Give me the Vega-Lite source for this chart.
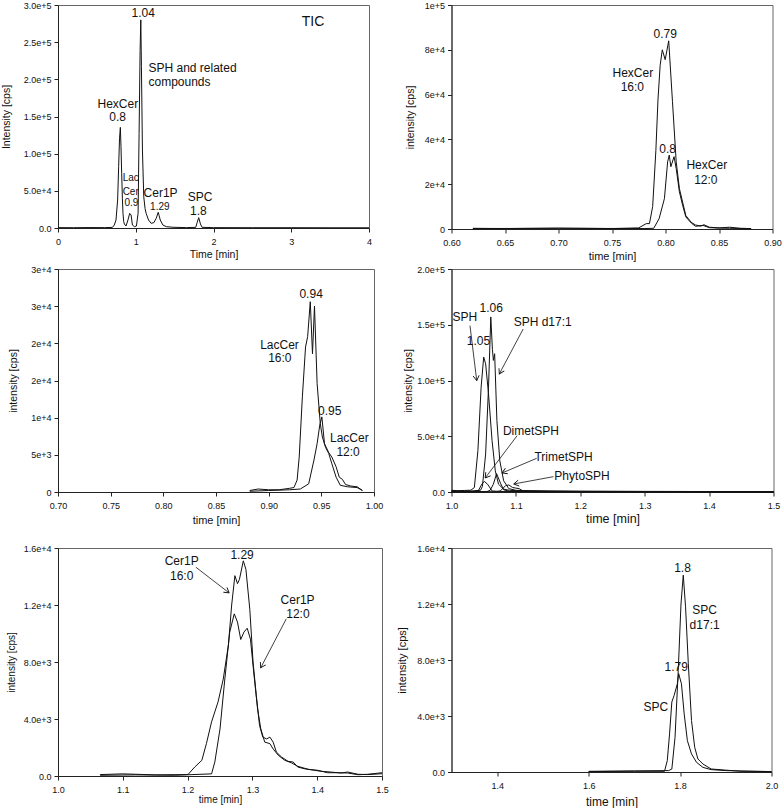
{
"$schema": "https://vega.github.io/schema/vega-lite/v6.json",
"padding": 0,
"autosize": {"type": "pad"},
"background": "white",
"config": {
 "font": "Liberation Sans",
 "view": {"stroke": "#666", "strokeWidth": 1},
 "axis": {"grid": false, "domainColor": "#222", "tickColor": "#222", "tickSize": 4, "labelFont": "Liberation Sans", "labelFontSize": 9, "labelColor": "#111", "labelPadding": 3, "titleFont": "Liberation Sans", "titleFontSize": 10.5, "titleFontWeight": "normal", "titleColor": "#111", "labelFlush": false, "labelOverlap": false, "labelBound": false},
 "axisX": {"labelPadding": 5},
 "line": {"color": "#111", "strokeWidth": 1},
 "text": {"font": "Liberation Sans", "fontSize": 12, "color": "#111", "align": "center", "baseline": "middle"}
},
"datasets": {
 "p1": [
  {"t":0,"v":500},{"t":0.2,"v":400},{"t":0.4,"v":600},{"t":0.6,"v":500},{"t":0.7,"v":800},{"t":0.724,"v":4000},{"t":0.746,"v":10800},{"t":0.767,"v":37700},{"t":0.78,"v":82500},{"t":0.791,"v":120000},{"t":0.802,"v":135400},{"t":0.81,"v":110000},{"t":0.819,"v":73500},{"t":0.828,"v":40000},{"t":0.836,"v":19700},{"t":0.845,"v":9000},{"t":0.853,"v":5400},{"t":0.875,"v":2700},{"t":0.9,"v":10800},{"t":0.922,"v":19700},{"t":0.94,"v":17500},{"t":0.957,"v":4000},{"t":0.983,"v":1800},{"t":1.009,"v":2700},{"t":1.03,"v":19700},{"t":1.043,"v":127000},{"t":1.056,"v":239000},{"t":1.065,"v":280000},{"t":1.073,"v":217000},{"t":1.086,"v":105000},{"t":1.103,"v":42000},{"t":1.12,"v":26000},{"t":1.134,"v":19700},{"t":1.164,"v":10800},{"t":1.198,"v":6300},{"t":1.233,"v":7200},{"t":1.263,"v":13000},{"t":1.289,"v":21100},{"t":1.3,"v":17000},{"t":1.315,"v":10800},{"t":1.349,"v":4000},{"t":1.392,"v":1800},{"t":1.478,"v":1000},{"t":1.651,"v":500},{"t":1.772,"v":900},{"t":1.789,"v":7200},{"t":1.81,"v":13900},{"t":1.832,"v":5400},{"t":1.853,"v":900},{"t":2.0,"v":500},{"t":2.5,"v":400},{"t":3.0,"v":400},{"t":3.5,"v":300},{"t":4.0,"v":300}
 ],
 "p1big": [
  {"t":1.095,"v":289700,"label":"1.04"},{"t":0.77,"v":166400,"label":"HexCer"},{"t":0.767,"v":148900,"label":"0.8"},{"t":1.319,"v":47500,"label":"Cer1P"},{"t":1.828,"v":42100,"label":"SPC"},{"t":1.806,"v":23300,"label":"1.8"}
 ],
 "p1left": [
  {"t":1.164,"v":215700,"label":"SPH and related"},{"t":1.164,"v":196800,"label":"compounds"}
 ],
 "p1small": [
  {"t":0.935,"v":67700,"label":"Lac"},{"t":0.935,"v":48900,"label":"Cer"},{"t":0.944,"v":33200,"label":"0.9"},{"t":1.31,"v":27800,"label":"1.29"}
 ],
 "p1tic": [{"t":3.28,"v":276700,"label":"TIC"}],
 "p2": [
  {"t":0.62,"v":300,"s":"16:0"},{"t":0.65,"v":200,"s":"16:0"},{"t":0.7,"v":400,"s":"16:0"},{"t":0.75,"v":200,"s":"16:0"},{"t":0.775,"v":500,"s":"16:0"},{"t":0.782,"v":2400,"s":"16:0"},{"t":0.785,"v":2400,"s":"16:0"},{"t":0.788,"v":10000,"s":"16:0"},{"t":0.791,"v":35000,"s":"16:0"},{"t":0.793,"v":58000,"s":"16:0"},{"t":0.795,"v":73000,"s":"16:0"},{"t":0.797,"v":80000,"s":"16:0"},{"t":0.7997,"v":75600,"s":"16:0"},{"t":0.803,"v":84000,"s":"16:0"},{"t":0.8065,"v":57000,"s":"16:0"},{"t":0.81,"v":30000,"s":"16:0"},{"t":0.813,"v":18000,"s":"16:0"},{"t":0.816,"v":12000,"s":"16:0"},{"t":0.819,"v":6000,"s":"16:0"},{"t":0.824,"v":3000,"s":"16:0"},{"t":0.828,"v":1800,"s":"16:0"},{"t":0.833,"v":1300,"s":"16:0"},{"t":0.836,"v":1900,"s":"16:0"},{"t":0.841,"v":800,"s":"16:0"},{"t":0.85,"v":500,"s":"16:0"},{"t":0.86,"v":800,"s":"16:0"},{"t":0.87,"v":300,"s":"16:0"},{"t":0.88,"v":200,"s":"16:0"},
  {"t":0.62,"v":200,"s":"12:0"},{"t":0.7,"v":300,"s":"12:0"},{"t":0.78,"v":200,"s":"12:0"},{"t":0.789,"v":300,"s":"12:0"},{"t":0.794,"v":4600,"s":"12:0"},{"t":0.799,"v":13600,"s":"12:0"},{"t":0.802,"v":30000,"s":"12:0"},{"t":0.8035,"v":33000,"s":"12:0"},{"t":0.805,"v":27800,"s":"12:0"},{"t":0.808,"v":32300,"s":"12:0"},{"t":0.81,"v":27000,"s":"12:0"},{"t":0.813,"v":16600,"s":"12:0"},{"t":0.816,"v":10600,"s":"12:0"},{"t":0.819,"v":5400,"s":"12:0"},{"t":0.824,"v":2700,"s":"12:0"},{"t":0.828,"v":1200,"s":"12:0"},{"t":0.835,"v":1600,"s":"12:0"},{"t":0.841,"v":600,"s":"12:0"},{"t":0.85,"v":400,"s":"12:0"},{"t":0.86,"v":300,"s":"12:0"},{"t":0.88,"v":200,"s":"12:0"}
 ],
 "p2lab": [
  {"t":0.7997,"v":86900,"label":"0.79"},{"t":0.7695,"v":69700,"label":"HexCer"},{"t":0.769,"v":63200,"label":"16:0"},{"t":0.802,"v":35600,"label":"0.8"},{"t":0.8386,"v":28600,"label":"HexCer"},{"t":0.8377,"v":21800,"label":"12:0"}
 ],
 "p3": [
  {"t":0.882,"v":200,"s":"16:0"},{"t":0.89,"v":400,"s":"16:0"},{"t":0.9,"v":300,"s":"16:0"},{"t":0.91,"v":300,"s":"16:0"},{"t":0.92,"v":500,"s":"16:0"},{"t":0.924,"v":600,"s":"16:0"},{"t":0.927,"v":1600,"s":"16:0"},{"t":0.929,"v":4700,"s":"16:0"},{"t":0.932,"v":12800,"s":"16:0"},{"t":0.935,"v":19500,"s":"16:0"},{"t":0.937,"v":20900,"s":"16:0"},{"t":0.9395,"v":25600,"s":"16:0"},{"t":0.9416,"v":18600,"s":"16:0"},{"t":0.9435,"v":25000,"s":"16:0"},{"t":0.946,"v":14600,"s":"16:0"},{"t":0.949,"v":9200,"s":"16:0"},{"t":0.951,"v":7400,"s":"16:0"},{"t":0.954,"v":6000,"s":"16:0"},{"t":0.957,"v":5200,"s":"16:0"},{"t":0.96,"v":3800,"s":"16:0"},{"t":0.964,"v":2000,"s":"16:0"},{"t":0.968,"v":900,"s":"16:0"},{"t":0.975,"v":700,"s":"16:0"},{"t":0.984,"v":600,"s":"16:0"},{"t":0.989,"v":200,"s":"16:0"},
  {"t":0.882,"v":100,"s":"12:0"},{"t":0.9,"v":200,"s":"12:0"},{"t":0.92,"v":300,"s":"12:0"},{"t":0.93,"v":400,"s":"12:0"},{"t":0.938,"v":1100,"s":"12:0"},{"t":0.943,"v":4300,"s":"12:0"},{"t":0.946,"v":6500,"s":"12:0"},{"t":0.9485,"v":9000,"s":"12:0"},{"t":0.9505,"v":10100,"s":"12:0"},{"t":0.953,"v":6500,"s":"12:0"},{"t":0.957,"v":5300,"s":"12:0"},{"t":0.96,"v":4700,"s":"12:0"},{"t":0.964,"v":3400,"s":"12:0"},{"t":0.967,"v":2000,"s":"12:0"},{"t":0.97,"v":1700,"s":"12:0"},{"t":0.973,"v":1000,"s":"12:0"},{"t":0.978,"v":800,"s":"12:0"},{"t":0.984,"v":700,"s":"12:0"},{"t":0.989,"v":200,"s":"12:0"}
 ],
 "p3lab": [
  {"t":0.9403,"v":26630,"label":"0.94"},{"t":0.9103,"v":19760,"label":"LacCer"},{"t":0.9106,"v":17960,"label":"16:0"},{"t":0.958,"v":10910,"label":"0.95"},{"t":0.9766,"v":7270,"label":"LacCer"},{"t":0.9754,"v":5390,"label":"12:0"}
 ],
 "p4": [
  {"t":1.0,"v":1500,"s":"SPH"},{"t":1.01,"v":1200,"s":"SPH"},{"t":1.02,"v":1400,"s":"SPH"},{"t":1.03,"v":1600,"s":"SPH"},{"t":1.0355,"v":4000,"s":"SPH"},{"t":1.041,"v":37000,"s":"SPH"},{"t":1.046,"v":94000,"s":"SPH"},{"t":1.05,"v":121000,"s":"SPH"},{"t":1.053,"v":115000,"s":"SPH"},{"t":1.0575,"v":88000,"s":"SPH"},{"t":1.063,"v":46000,"s":"SPH"},{"t":1.068,"v":19000,"s":"SPH"},{"t":1.073,"v":7000,"s":"SPH"},{"t":1.081,"v":2500,"s":"SPH"},{"t":1.09,"v":1500,"s":"SPH"},{"t":1.1,"v":1200,"s":"SPH"},{"t":1.12,"v":1000,"s":"SPH"},{"t":1.15,"v":900,"s":"SPH"},{"t":1.2,"v":700,"s":"SPH"},{"t":1.25,"v":600,"s":"SPH"},{"t":1.3,"v":500,"s":"SPH"},{"t":1.35,"v":500,"s":"SPH"},{"t":1.4,"v":400,"s":"SPH"},{"t":1.45,"v":400,"s":"SPH"},{"t":1.5,"v":300,"s":"SPH"},
  {"t":1.0,"v":800,"s":"SPH d17:1"},{"t":1.03,"v":900,"s":"SPH d17:1"},{"t":1.045,"v":1500,"s":"SPH d17:1"},{"t":1.048,"v":5000,"s":"SPH d17:1"},{"t":1.053,"v":34000,"s":"SPH d17:1"},{"t":1.0575,"v":94000,"s":"SPH d17:1"},{"t":1.061,"v":157000,"s":"SPH d17:1"},{"t":1.0635,"v":128000,"s":"SPH d17:1"},{"t":1.065,"v":118000,"s":"SPH d17:1"},{"t":1.067,"v":124000,"s":"SPH d17:1"},{"t":1.0705,"v":64000,"s":"SPH d17:1"},{"t":1.075,"v":28000,"s":"SPH d17:1"},{"t":1.081,"v":10000,"s":"SPH d17:1"},{"t":1.089,"v":3000,"s":"SPH d17:1"},{"t":1.1,"v":1500,"s":"SPH d17:1"},{"t":1.15,"v":800,"s":"SPH d17:1"},{"t":1.2,"v":600,"s":"SPH d17:1"},{"t":1.3,"v":500,"s":"SPH d17:1"},{"t":1.4,"v":400,"s":"SPH d17:1"},{"t":1.5,"v":300,"s":"SPH d17:1"},
  {"t":1.0,"v":300,"s":"DimetSPH"},{"t":1.035,"v":500,"s":"DimetSPH"},{"t":1.042,"v":1500,"s":"DimetSPH"},{"t":1.047,"v":7000,"s":"DimetSPH"},{"t":1.051,"v":9500,"s":"DimetSPH"},{"t":1.056,"v":7000,"s":"DimetSPH"},{"t":1.063,"v":900,"s":"DimetSPH"},{"t":1.08,"v":400,"s":"DimetSPH"},{"t":1.15,"v":300,"s":"DimetSPH"},{"t":1.3,"v":200,"s":"DimetSPH"},{"t":1.5,"v":200,"s":"DimetSPH"},
  {"t":1.0,"v":200,"s":"TrimetSPH"},{"t":1.055,"v":400,"s":"TrimetSPH"},{"t":1.06,"v":1500,"s":"TrimetSPH"},{"t":1.065,"v":7000,"s":"TrimetSPH"},{"t":1.07,"v":16500,"s":"TrimetSPH"},{"t":1.076,"v":8000,"s":"TrimetSPH"},{"t":1.081,"v":2000,"s":"TrimetSPH"},{"t":1.09,"v":600,"s":"TrimetSPH"},{"t":1.2,"v":300,"s":"TrimetSPH"},{"t":1.5,"v":200,"s":"TrimetSPH"},
  {"t":1.0,"v":200,"s":"PhytoSPH"},{"t":1.07,"v":300,"s":"PhytoSPH"},{"t":1.076,"v":1000,"s":"PhytoSPH"},{"t":1.084,"v":5700,"s":"PhytoSPH"},{"t":1.089,"v":6300,"s":"PhytoSPH"},{"t":1.095,"v":4000,"s":"PhytoSPH"},{"t":1.1,"v":3500,"s":"PhytoSPH"},{"t":1.105,"v":3000,"s":"PhytoSPH"},{"t":1.112,"v":600,"s":"PhytoSPH"},{"t":1.13,"v":300,"s":"PhytoSPH"},{"t":1.5,"v":200,"s":"PhytoSPH"}
 ],
 "p4lab": [
  {"t":1.0209,"v":156700,"label":"SPH"},{"t":1.0617,"v":165000,"label":"1.06"},{"t":1.0418,"v":135150,"label":"1.05"},{"t":1.1416,"v":152800,"label":"SPH d17:1"},{"t":1.1233,"v":55000,"label":"DimetSPH"},{"t":1.174,"v":31700,"label":"TrimetSPH"},{"t":1.2027,"v":14650,"label":"PhytoSPH"}
 ],
 "p4arr": [
  {"t":1.0392,"v":99870,"t2":1.0287,"v2":149200},{"t":1.0742,"v":105850,"t2":1.1113,"v2":146200},{"t":1.0523,"v":12560,"t2":1.1019,"v2":50530},{"t":1.0784,"v":17040,"t2":1.1322,"v2":30200},{"t":1.0967,"v":7180,"t2":1.1583,"v2":13750}
 ],
 "p5": [
  {"t":1.065,"v":100,"s":"16:0"},{"t":1.1,"v":150,"s":"16:0"},{"t":1.15,"v":80,"s":"16:0"},{"t":1.198,"v":100,"s":"16:0"},{"t":1.201,"v":120,"s":"16:0"},{"t":1.211,"v":630,"s":"16:0"},{"t":1.222,"v":1100,"s":"16:0"},{"t":1.229,"v":2270,"s":"16:0"},{"t":1.237,"v":3800,"s":"16:0"},{"t":1.247,"v":5200,"s":"16:0"},{"t":1.255,"v":6800,"s":"16:0"},{"t":1.263,"v":9200,"s":"16:0"},{"t":1.268,"v":12000,"s":"16:0"},{"t":1.273,"v":14060,"s":"16:0"},{"t":1.277,"v":13500,"s":"16:0"},{"t":1.28,"v":13800,"s":"16:0"},{"t":1.286,"v":15100,"s":"16:0"},{"t":1.29,"v":14500,"s":"16:0"},{"t":1.296,"v":11700,"s":"16:0"},{"t":1.301,"v":8000,"s":"16:0"},{"t":1.306,"v":5650,"s":"16:0"},{"t":1.311,"v":3550,"s":"16:0"},{"t":1.316,"v":2730,"s":"16:0"},{"t":1.322,"v":2600,"s":"16:0"},{"t":1.327,"v":2730,"s":"16:0"},{"t":1.332,"v":2380,"s":"16:0"},{"t":1.337,"v":1680,"s":"16:0"},{"t":1.345,"v":1330,"s":"16:0"},{"t":1.355,"v":1030,"s":"16:0"},{"t":1.363,"v":980,"s":"16:0"},{"t":1.37,"v":630,"s":"16:0"},{"t":1.38,"v":510,"s":"16:0"},{"t":1.396,"v":400,"s":"16:0"},{"t":1.406,"v":330,"s":"16:0"},{"t":1.42,"v":280,"s":"16:0"},{"t":1.437,"v":210,"s":"16:0"},{"t":1.447,"v":280,"s":"16:0"},{"t":1.463,"v":120,"s":"16:0"},{"t":1.478,"v":100,"s":"16:0"},{"t":1.5,"v":160,"s":"16:0"},
  {"t":1.065,"v":50,"s":"12:0"},{"t":1.12,"v":80,"s":"12:0"},{"t":1.18,"v":50,"s":"12:0"},{"t":1.237,"v":150,"s":"12:0"},{"t":1.242,"v":980,"s":"12:0"},{"t":1.25,"v":3300,"s":"12:0"},{"t":1.257,"v":6600,"s":"12:0"},{"t":1.265,"v":10100,"s":"12:0"},{"t":1.272,"v":11380,"s":"12:0"},{"t":1.277,"v":10800,"s":"12:0"},{"t":1.282,"v":9580,"s":"12:0"},{"t":1.287,"v":10100,"s":"12:0"},{"t":1.292,"v":10370,"s":"12:0"},{"t":1.297,"v":9600,"s":"12:0"},{"t":1.302,"v":7300,"s":"12:0"},{"t":1.308,"v":4700,"s":"12:0"},{"t":1.313,"v":3300,"s":"12:0"},{"t":1.319,"v":2380,"s":"12:0"},{"t":1.327,"v":2270,"s":"12:0"},{"t":1.332,"v":1900,"s":"12:0"},{"t":1.34,"v":1450,"s":"12:0"},{"t":1.35,"v":1100,"s":"12:0"},{"t":1.36,"v":930,"s":"12:0"},{"t":1.37,"v":680,"s":"12:0"},{"t":1.386,"v":470,"s":"12:0"},{"t":1.401,"v":400,"s":"12:0"},{"t":1.416,"v":230,"s":"12:0"},{"t":1.432,"v":230,"s":"12:0"},{"t":1.447,"v":210,"s":"12:0"},{"t":1.463,"v":90,"s":"12:0"},{"t":1.478,"v":120,"s":"12:0"},{"t":1.5,"v":230,"s":"12:0"}
 ],
 "p5lab": [
  {"t":1.1908,"v":15110,"label":"Cer1P"},{"t":1.1908,"v":14060,"label":"16:0"},{"t":1.2841,"v":15530,"label":"1.29"},{"t":1.3697,"v":12380,"label":"Cer1P"},{"t":1.3702,"v":11380,"label":"12:0"}
 ],
 "p5arr": [
  {"t":1.2641,"v":12850,"t2":1.2128,"v2":14650},{"t":1.3128,"v":7590,"t2":1.3523,"v2":11030}
 ],
 "p6": [
  {"t":1.6,"v":50,"s":"d17:1"},{"t":1.7,"v":80,"s":"d17:1"},{"t":1.775,"v":100,"s":"d17:1"},{"t":1.782,"v":210,"s":"d17:1"},{"t":1.789,"v":2480,"s":"d17:1"},{"t":1.796,"v":7260,"s":"d17:1"},{"t":1.802,"v":12000,"s":"d17:1"},{"t":1.807,"v":14060,"s":"d17:1"},{"t":1.812,"v":11800,"s":"d17:1"},{"t":1.818,"v":7740,"s":"d17:1"},{"t":1.825,"v":3680,"s":"d17:1"},{"t":1.832,"v":1770,"s":"d17:1"},{"t":1.839,"v":930,"s":"d17:1"},{"t":1.85,"v":570,"s":"d17:1"},{"t":1.868,"v":215,"s":"d17:1"},{"t":1.897,"v":140,"s":"d17:1"},{"t":1.933,"v":50,"s":"d17:1"},{"t":2.0,"v":30,"s":"d17:1"},
  {"t":1.6,"v":30,"s":"SPC"},{"t":1.7,"v":50,"s":"SPC"},{"t":1.766,"v":50,"s":"SPC"},{"t":1.772,"v":810,"s":"SPC"},{"t":1.777,"v":2720,"s":"SPC"},{"t":1.782,"v":5000,"s":"SPC"},{"t":1.787,"v":5470,"s":"SPC"},{"t":1.794,"v":6300,"s":"SPC"},{"t":1.797,"v":7020,"s":"SPC"},{"t":1.803,"v":6300,"s":"SPC"},{"t":1.809,"v":4150,"s":"SPC"},{"t":1.816,"v":2240,"s":"SPC"},{"t":1.825,"v":1290,"s":"SPC"},{"t":1.836,"v":690,"s":"SPC"},{"t":1.85,"v":330,"s":"SPC"},{"t":1.868,"v":170,"s":"SPC"},{"t":1.9,"v":100,"s":"SPC"},{"t":2.0,"v":30,"s":"SPC"}
 ],
 "p6lab": [
  {"t":1.8054,"v":14540,"label":"1.8"},{"t":1.8537,"v":11560,"label":"SPC"},{"t":1.8537,"v":10480,"label":"d17:1"},{"t":1.7917,"v":7500,"label":"1.79"},{"t":1.747,"v":4630,"label":"SPC"}
 ],
 "blank": [{"a": 0}]
},
"columns": 2,
"bounds": "flush",
"align": {"row": "each", "column": "all"},
"spacing": {"row": 0, "column": 69.5},
"concat": [
 {
  "width": 311, "height": 223,
  "encoding": {
   "x": {"field": "t", "type": "quantitative", "scale": {"domain": [0, 4], "nice": false, "zero": false}, "axis": {"values": [0,1,2,3,4], "format": "d", "title": "Time [min]", "titleY": 21}},
   "y": {"field": "v", "type": "quantitative", "scale": {"domain": [0, 300000], "nice": false}, "axis": {"values": [0,50000,100000,150000,200000,250000,300000], "labelExpr": "datum.value == 0 ? '0.0' : format(datum.value, '.1e')", "title": "Intensity [cps]", "titleX": -47}}
  },
  "layer": [
   {"data": {"name": "p1"}, "mark": {"type": "line"}, "encoding": {}},
   {"data": {"name": "p1big"}, "mark": {"type": "text"}, "encoding": {"text": {"field": "label"}}},
   {"data": {"name": "p1left"}, "mark": {"type": "text", "align": "left"}, "encoding": {"text": {"field": "label"}}},
   {"data": {"name": "p1small"}, "mark": {"type": "text", "fontSize": 10}, "encoding": {"text": {"field": "label"}}},
   {"data": {"name": "p1tic"}, "mark": {"type": "text", "fontSize": 14}, "encoding": {"text": {"field": "label"}}}
  ]
 },
 {
  "width": 321, "height": 224,
  "encoding": {
   "x": {"field": "t", "type": "quantitative", "scale": {"domain": [0.6, 0.9], "nice": false, "zero": false}, "axis": {"values": [0.6,0.65,0.7,0.75,0.8,0.85,0.9], "format": ".2f", "title": "time [min]", "titleY": 21, "titleFontSize": 11}},
   "y": {"field": "v", "type": "quantitative", "scale": {"domain": [0, 100000], "nice": false}, "axis": {"values": [0,20000,40000,60000,80000,100000], "labelExpr": "datum.value == 0 ? '0' : format(datum.value, '.0e')", "title": "intensity [cps]", "titleX": -35.75}}
  },
  "layer": [
   {"data": {"name": "p2"}, "mark": {"type": "line"}, "encoding": {"detail": {"field": "s"}}},
   {"data": {"name": "p2lab"}, "mark": {"type": "text"}, "encoding": {"text": {"field": "label"}}}
  ]
 },
 {"width": 1, "height": 39.5, "data": {"name": "blank"}, "mark": {"type": "point", "opacity": 0}, "encoding": {}, "view": {"stroke": null}},
 {"width": 1, "height": 39.5, "data": {"name": "blank"}, "mark": {"type": "point", "opacity": 0}, "encoding": {}, "view": {"stroke": null}},
 {
  "width": 316, "height": 223,
  "encoding": {
   "x": {"field": "t", "type": "quantitative", "scale": {"domain": [0.7, 1.0], "nice": false, "zero": false}, "axis": {"values": [0.7,0.75,0.8,0.85,0.9,0.95,1.0], "format": ".2f", "title": "time [min]", "titleY": 22, "titleFontSize": 11}},
   "y": {"field": "v", "type": "quantitative", "scale": {"domain": [0, 30000], "nice": false}, "axis": {"values": [0,5000,10000,15000,20000,25000,30000], "labelExpr": "datum.value == 0 ? '0' : format(datum.value, '.0e')", "title": "intensity [cps]", "titleX": -39.25}}
  },
  "layer": [
   {"data": {"name": "p3"}, "mark": {"type": "line"}, "encoding": {"detail": {"field": "s"}}},
   {"data": {"name": "p3lab"}, "mark": {"type": "text"}, "encoding": {"text": {"field": "label"}}}
  ]
 },
 {
  "width": 322, "height": 223,
  "encoding": {
   "x": {"field": "t", "type": "quantitative", "scale": {"domain": [1.0, 1.5], "nice": false, "zero": false}, "axis": {"values": [1.0,1.1,1.2,1.3,1.4,1.5], "format": ".1f", "title": "time [min]", "titleY": 20, "titleFontSize": 12.5}},
   "y": {"field": "v", "type": "quantitative", "scale": {"domain": [0, 200000], "nice": false}, "axis": {"values": [0,50000,100000,150000,200000], "labelExpr": "datum.value == 0 ? '0.0' : format(datum.value, '.1e')", "title": "intensity [cps]", "titleX": -37.75}}
  },
  "layer": [
   {"data": {"name": "p4"}, "mark": {"type": "line"}, "encoding": {"detail": {"field": "s"}}},
   {"data": {"name": "p4lab"}, "mark": {"type": "text"}, "encoding": {"text": {"field": "label"}}},
   {"data": {"name": "p4arr"}, "mark": {"type": "rule", "color": "#111", "strokeWidth": 0.8}, "encoding": {"x2": {"field": "t2"}, "y2": {"field": "v2"}}},
   {"data": {"name": "p4arr"}, "transform": [{"calculate": "atan2(-(datum.v - datum.v2) * 223 / 200000, (datum.t - datum.t2) * 322 / 0.5) * 180 / PI", "as": "ang"}], "mark": {"type": "point", "shape": "M-1,-0.6L0,0L-1,0.6", "filled": false, "stroke": "#111", "strokeWidth": 0.9, "size": 100, "opacity": 1}, "encoding": {"angle": {"field": "ang", "type": "quantitative", "scale": null}}}
  ]
 },
 {"width": 1, "height": 55.5, "data": {"name": "blank"}, "mark": {"type": "point", "opacity": 0}, "encoding": {}, "view": {"stroke": null}},
 {"width": 1, "height": 55.5, "data": {"name": "blank"}, "mark": {"type": "point", "opacity": 0}, "encoding": {}, "view": {"stroke": null}},
 {
  "width": 324, "height": 228,
  "encoding": {
   "x": {"field": "t", "type": "quantitative", "scale": {"domain": [1.0, 1.5], "nice": false, "zero": false}, "axis": {"values": [1.0,1.1,1.2,1.3,1.4,1.5], "format": ".1f", "title": "time [min]", "titleY": 18, "titleFontSize": 10}},
   "y": {"field": "v", "type": "quantitative", "scale": {"domain": [0, 16000], "nice": false}, "axis": {"values": [0,4000,8000,12000,16000], "labelExpr": "datum.value == 0 ? '0.0' : format(datum.value, '.1e')", "title": "intensity [cps]", "titleX": -41.75, "titleFontSize": 10}}
  },
  "layer": [
   {"data": {"name": "p5"}, "mark": {"type": "line"}, "encoding": {"detail": {"field": "s"}}},
   {"data": {"name": "p5lab"}, "mark": {"type": "text"}, "encoding": {"text": {"field": "label"}}},
   {"data": {"name": "p5arr"}, "mark": {"type": "rule", "color": "#111", "strokeWidth": 0.8}, "encoding": {"x2": {"field": "t2"}, "y2": {"field": "v2"}}},
   {"data": {"name": "p5arr"}, "transform": [{"calculate": "atan2(-(datum.v - datum.v2) * 228 / 16000, (datum.t - datum.t2) * 324 / 0.5) * 180 / PI", "as": "ang"}], "mark": {"type": "point", "shape": "M-1,-0.6L0,0L-1,0.6", "filled": false, "stroke": "#111", "strokeWidth": 0.9, "size": 100, "opacity": 1}, "encoding": {"angle": {"field": "ang", "type": "quantitative", "scale": null}}}
  ]
 },
 {
  "width": 320, "height": 224,
  "encoding": {
   "x": {"field": "t", "type": "quantitative", "scale": {"domain": [1.3, 2.0], "nice": false, "zero": false}, "axis": {"values": [1.4,1.6,1.8,2.0], "format": ".1f", "title": "time [min]", "titleY": 24, "titleFontSize": 12}},
   "y": {"field": "v", "type": "quantitative", "scale": {"domain": [0, 16000], "nice": false}, "axis": {"values": [0,4000,8000,12000,16000], "labelExpr": "datum.value == 0 ? '0.0' : format(datum.value, '.1e')", "title": "intensity [cps]", "titleX": -44, "titleFontSize": 11}}
  },
  "layer": [
   {"data": {"name": "p6"}, "mark": {"type": "line"}, "encoding": {"detail": {"field": "s"}}},
   {"data": {"name": "p6lab"}, "mark": {"type": "text"}, "encoding": {"text": {"field": "label"}}}
  ]
 }
]
}
